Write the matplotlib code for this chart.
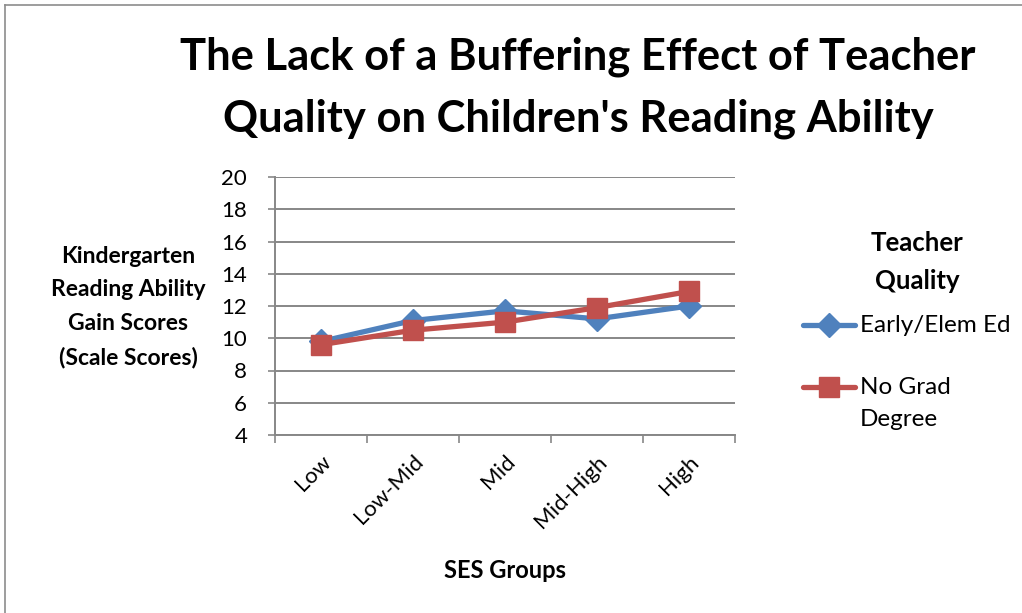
import matplotlib
matplotlib.use("Agg")
import matplotlib.pyplot as plt
from matplotlib.lines import Line2D
import numpy as np

categories = ["Low", "Low-Mid", "Mid", "Mid-High", "High"]
early_elem = [9.8, 11.1, 11.7, 11.2, 12.0]
no_grad = [9.6, 10.5, 11.0, 11.9, 12.9]
series_names = ["Early/Elem Ed", "No Grad\nDegree"]
y_ticks = [4, 6, 8, 10, 12, 14, 16, 18, 20]

FONT = "Lato"
BLUE = "#4F81BD"
RED = "#C0504D"
GRID = "#878787"

fig = plt.figure(figsize=(10.22, 6.13), dpi=100)
ax = fig.add_axes([275/1022, 1-435/613, 460/1022, 258/613])

x = np.arange(len(categories))
ax.plot(x, early_elem, color=BLUE, lw=3.8, marker="D", ms=12, mfc=BLUE, mec=BLUE, zorder=3)
ax.plot(x, no_grad, color=RED, lw=3.8, marker="s", ms=14, mfc=RED, mec=RED, zorder=4)

ax.set_xlim(-0.5, len(categories) - 0.5)
ax.set_ylim(4, 20)
ax.set_yticks(y_ticks)
ax.set_yticklabels([str(v) for v in y_ticks], fontfamily=FONT, fontsize=16)
ax.yaxis.grid(True, color=GRID, lw=1.4)
ax.set_axisbelow(True)
for s in ["top", "right"]:
    ax.spines[s].set_visible(False)
for s in ["left", "bottom"]:
    ax.spines[s].set_color(GRID)
    ax.spines[s].set_linewidth(1.4)
ax.tick_params(axis="y", length=5, width=1.2, color=GRID, pad=15)

# x ticks at category boundaries, labels at centers
ax.set_xticks(np.arange(-0.5, len(categories), 1.0))
ax.set_xticklabels([])
ax.tick_params(axis="x", length=6, width=1.2, color=GRID)
ax.set_xticks(x, minor=True)
ax.set_xticklabels(categories, minor=True, rotation=45, ha="right", va="top",
                   rotation_mode="anchor", fontfamily=FONT, fontsize=16)
ax.tick_params(axis="x", which="minor", length=0, pad=12)

fig.text(578/1022, 1-88/613, "The Lack of a Buffering Effect of Teacher\nQuality on Children's Reading Ability",
         ha="center", va="center", fontfamily=FONT, fontweight="bold", fontsize=31.3,
         linespacing=1.66)
fig.text(128/1022, 1-307/613, "Kindergarten\nReading Ability\nGain Scores\n(Scale Scores)",
         ha="center", va="center", fontfamily=FONT, fontweight="bold", fontsize=16.5, linespacing=1.74)
fig.text(505/1022, 1-571/613, "SES Groups", ha="center", va="center",
         fontfamily=FONT, fontweight="bold", fontsize=17)

# legend
fig.text(917/1022, 1-262/613, "Teacher\nQuality", ha="center", va="center",
         fontfamily=FONT, fontweight="bold", fontsize=18.5, linespacing=1.68)
legend_items = [(325, BLUE, "D", 12, series_names[0]), (387, RED, "s", 14, series_names[1])]
for yc, col, mk, ms, name in legend_items:
    yy = 1 - yc/613
    fig.add_artist(Line2D([803/1022, 855/1022], [yy, yy], color=col, lw=3.8,
                          transform=fig.transFigure, solid_capstyle="round"))
    fig.add_artist(Line2D([829/1022], [yy], color=col, marker=mk, ms=ms, mfc=col, mec=col,
                          transform=fig.transFigure))
    if "\n" in name:
        fig.text(860/1022, 1 - (yc - 10)/613, name, ha="left", va="top",
                 fontfamily=FONT, fontsize=17.5, linespacing=1.66)
    else:
        fig.text(860/1022, yy, name, ha="left", va="center", fontfamily=FONT, fontsize=17.5)

# outer frame (left and top visible)
fig.add_artist(Line2D([5/1022, 5/1022], [0, 1-5/613], color="#8c8c8c", lw=1.2, transform=fig.transFigure))
fig.add_artist(Line2D([5/1022, 1], [1-5/613, 1-5/613], color="#8c8c8c", lw=1.2, transform=fig.transFigure))

fig.savefig("out.png", dpi=100)
